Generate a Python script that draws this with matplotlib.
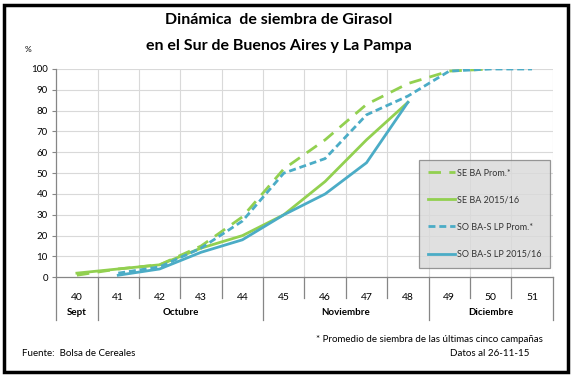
import matplotlib
matplotlib.use("Agg")
import matplotlib.pyplot as plt
from matplotlib.lines import Line2D
from matplotlib.patches import Rectangle

# ==========================================
# datos
# ==========================================
semanas = ["40", "41", "42", "43", "44", "45", "46", "47", "48", "49", "50", "51"]
meses = ["Sept", "Octubre", "Noviembre", "Diciembre"]
# indice de la primera y ultima semana de cada mes
mes_desde = [0, 1, 5, 9]
mes_hasta = [0, 4, 8, 11]

se_ba_prom = [1, 4, 6, 15, 29, 52, 66, 83, 93, 99, 100]
se_ba_1516 = [2, 4, 6, 14, 20, 30, 46, 66, 84]
so_ba_prom = [None, 2, 5, 14, 27, 50, 57, 78, 87, 99, 100, 100]
so_ba_1516 = [None, 1, 4, 12, 18, 30, 40, 55, 84]

series = [
    ("SE BA Prom.*", se_ba_prom, "#92D050", (0, (4.5, 3))),
    ("SE BA 2015/16", se_ba_1516, "#92D050", "-"),
    ("SO BA-S LP Prom.*", so_ba_prom, "#4BACC6", (0, (2.5, 1.4))),
    ("SO BA-S LP 2015/16", so_ba_1516, "#4BACC6", "-"),
]

plt.rcParams['font.family'] = ['Lato', 'DejaVu Sans']
W, H = 574, 376
fig = plt.figure(figsize=(W / 100, H / 100), dpi=100)

# marco negro
fig.patches.append(Rectangle((4 / W, 4 / H), 564 / W, 367 / H, transform=fig.transFigure,
                             fill=False, edgecolor="black", linewidth=2.5))

x0, x1, y0, y1 = 56.2, 552.7, 277.3, 69
ax = fig.add_axes([x0 / W, 1 - y0 / H, (x1 - x0) / W, (y0 - y1) / H])
ax.set_xlim(-0.5, len(semanas) - 0.5)
ax.set_ylim(0, 100)

for lab, vals, col, ls in series:
    xs = [i for i, v in enumerate(vals) if v is not None]
    ys = [v for v in vals if v is not None]
    ax.plot(xs, ys, color=col, linestyle=ls, linewidth=2, label=lab, zorder=3)

# rejilla
for v in range(10, 101, 10):
    ax.axhline(v, color="#D9D9D9", linewidth=0.8, zorder=1)
for k in range(1, len(semanas) + 1):
    ax.axvline(k - 0.5, color="#D9D9D9", linewidth=0.8, zorder=1)

for s in ["top", "right"]:
    ax.spines[s].set_visible(False)
for s in ["left", "bottom"]:
    ax.spines[s].set_color("#868686")
    ax.spines[s].set_linewidth(0.9)

ax.set_yticks(range(0, 101, 10))
ax.tick_params(axis="y", length=3, width=0.8, color="#868686", labelsize=7, pad=3)
ax.set_xticks(range(len(semanas)))
ax.set_xticklabels(semanas)
ax.tick_params(axis="x", length=0, labelsize=7.5, pad=11)

# divisiones debajo del eje
tr = ax.get_xaxis_transform()
alto_sem = (298 - y0) / (y0 - y1)
alto_mes = (320 - y0) / (y0 - y1)
fronteras_mes = [mes_desde[i] - 0.5 for i in range(len(meses))] + [len(semanas) - 0.5]
for k in range(len(semanas) + 1):
    xb = k - 0.5
    largo = alto_mes if xb in fronteras_mes else alto_sem
    ax.plot([xb, xb], [0, -largo], transform=tr, color="#868686", linewidth=0.9, clip_on=False)
for i, m in enumerate(meses):
    xc = (mes_desde[i] + mes_hasta[i]) / 2
    ax.text(xc, -(312.5 - y0) / (y0 - y1), m, transform=tr, ha="center", va="center",
            fontsize=7, fontweight="bold")

# leyenda
handles = [Line2D([], [], color=c, linestyle=ls, linewidth=2) for _, _, c, ls in series]
leg = fig.legend(handles, [s[0] for s in series], loc="upper left",
                 bbox_to_anchor=(419 / W, 1 - 159.5 / H), fontsize=6.5,
                 frameon=True, fancybox=False, handlelength=3.0, handletextpad=0.2,
                 labelspacing=2.0, borderpad=1.0, borderaxespad=0)
leg.get_frame().set_facecolor("#D9D9D9")
leg.get_frame().set_edgecolor("#7F7F7F")
leg.get_frame().set_linewidth(0.9)
for t in leg.get_texts():
    t.set_color("#333333")

# textos
fig.text(279 / W, 1 - 20 / H, "Dinámica  de siembra de Girasol", ha="center", va="center",
         fontsize=11.5, fontweight="bold")
fig.text(279 / W, 1 - 46 / H, "en el Sur de Buenos Aires y La Pampa", ha="center", va="center",
         fontsize=11.5, fontweight="bold")
fig.text(28 / W, 1 - 50 / H, "%", ha="center", va="center", fontsize=6)
fig.text(543 / W, 1 - 339 / H, "* Promedio de siembra de las últimas cinco campañas",
         ha="right", va="center", fontsize=7)
fig.text(529 / W, 1 - 354 / H, "Datos al 26-11-15", ha="right", va="center", fontsize=7)
fig.text(22 / W, 1 - 353 / H, "Fuente:  Bolsa de Cereales", ha="left", va="center", fontsize=7)

fig.savefig("out.png", dpi=100)
